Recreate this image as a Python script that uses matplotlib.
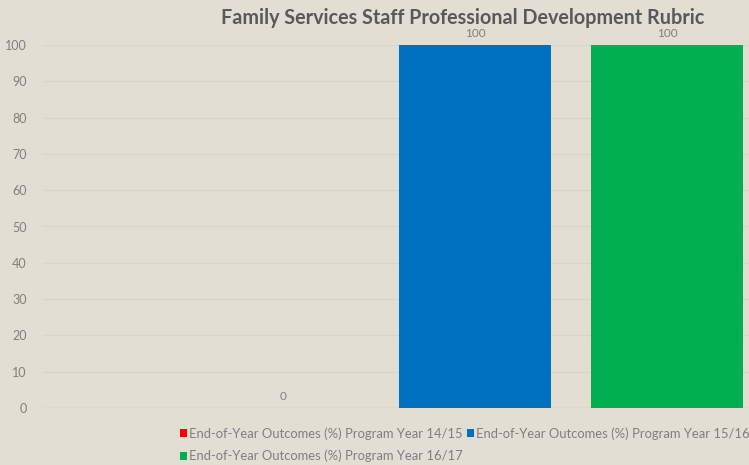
import matplotlib
matplotlib.use("Agg")
import matplotlib.pyplot as plt

# --- data -------------------------------------------------------------------
series = [
    "End-of-Year Outcomes (%) Program Year 14/15",
    "End-of-Year Outcomes (%) Program Year 15/16",
    "End-of-Year Outcomes (%) Program Year 16/17",
]
values = [0, 100, 100]
colors = ["#FF0000", "#0070C0", "#00B050"]
yticks = [0, 10, 20, 30, 40, 50, 60, 70, 80, 90, 100]
title = "Family Services Staff Professional Development Rubric"

BG = "#E3DED3"
TXT = "#7F7F7F"

plt.rcParams["font.family"] = ["Lato", "DejaVu Sans"]

W, H = 749, 465
fig = plt.figure(figsize=(W / 100, H / 100), dpi=100, facecolor=BG)
# plot area runs past the right edge (the source image is cropped)
x0, x1, y_top, y_bot = 42, 908, 45, 408
ax = fig.add_axes([x0 / W, 1 - y_bot / H, (x1 - x0) / W, (y_bot - y_top) / H])
ax.set_facecolor(BG)

width = 152 / (x1 - x0)
gap = 40 / (x1 - x0)
offsets = [-(width + gap), 0, width + gap]
bars = []
for name, v, c, off in zip(series, values, colors, offsets):
    b = ax.bar(off, v, width=width, color=c, label=name, zorder=2)
    bars.append(b)
    ax.text(off, v + 1.7, f"{v}", ha="center", va="bottom", fontsize=8.5, color=TXT)

ax.set_xlim(-0.5, 0.5)
ax.set_ylim(0, 100)
ax.set_yticks(yticks)
ax.set_xticks([])
ax.grid(axis="y", color="#D9D5CB", linewidth=1, zorder=0)
ax.axhline(0, color="#D3CFC5", linewidth=1, zorder=1)
for s in ax.spines.values():
    s.set_visible(False)
ax.tick_params(axis="y", length=0, pad=11, labelsize=9, labelcolor=TXT)

fig.text(463 / W, 1 - 18 / H, title, ha="center", va="center",
         fontsize=14.2, fontweight="bold", color="#595959")

# column-major fill -> row 1: 14/15, 15/16 ; row 2: 16/17
order = [0, 2, 1]
leg = fig.legend([bars[i] for i in order], [series[i] for i in order],
                 ncol=2, loc="upper left", bbox_to_anchor=(180 / W, 1 - 427 / H),
                 frameon=False, fontsize=9.35, handlelength=0.55, handleheight=0.55,
                 handletextpad=0.15, columnspacing=0.3, labelspacing=0.78,
                 borderaxespad=0, borderpad=0)
for t in leg.get_texts():
    t.set_color(TXT)

fig.savefig("out.png", dpi=100, facecolor=BG)
